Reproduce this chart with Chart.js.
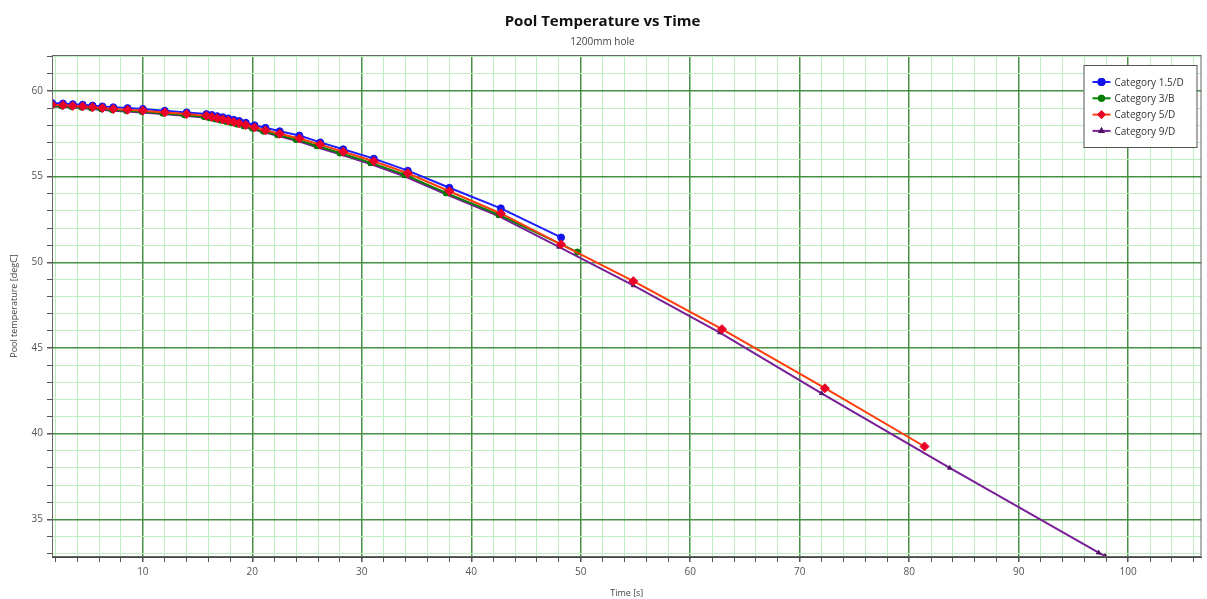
<!DOCTYPE html>
<html>
<head>
<meta charset="utf-8">
<script src="https://cdn.jsdelivr.net/npm/chart.js@4.4.1/dist/chart.umd.min.js"></script>
<style>
  html, body { margin: 0; padding: 0; background: #fff; }
  #wrap { width: 1207px; height: 599px; position: relative; }
</style>
</head>
<body>
<div id="wrap"><canvas id="poolChart"></canvas></div>
<script>
// Series data (time in s, temperature in degC)
const seriesNames = ['Category 1.5/D', 'Category 3/B', 'Category 5/D', 'Category 9/D'];

const timeCat15 = [1.7, 2.7, 3.6, 4.5, 5.4, 6.3, 7.3, 8.6, 10.0, 12.0, 14.0, 15.8, 16.3, 16.8, 17.3, 17.8, 18.3, 18.8, 19.4, 20.2, 21.2, 22.5, 24.3, 26.2, 28.3, 31.1, 34.2, 38.0, 42.7, 48.2];
const tempCat15 = [59.3, 59.27, 59.23, 59.2, 59.15, 59.1, 59.05, 59.0, 58.95, 58.85, 58.75, 58.65, 58.6, 58.53, 58.47, 58.4, 58.32, 58.25, 58.15, 58.0, 57.85, 57.65, 57.4, 57.0, 56.6, 56.05, 55.35, 54.35, 53.15, 51.45];

const timeCat3 = [1.7, 2.6, 3.5, 4.4, 5.3, 6.2, 7.2, 8.5, 9.9, 11.8, 13.8, 15.6, 16.1, 16.6, 17.1, 17.6, 18.1, 18.6, 19.2, 20.0, 21.0, 22.3, 24.0, 25.9, 28.0, 30.8, 33.9, 37.7, 42.5, 49.7];
const tempCat3 = [59.15, 59.12, 59.08, 59.05, 59.0, 58.95, 58.9, 58.85, 58.8, 58.7, 58.6, 58.5, 58.43, 58.36, 58.29, 58.22, 58.14, 58.06, 57.96, 57.82, 57.65, 57.44, 57.17, 56.8, 56.38, 55.82, 55.12, 54.05, 52.78, 50.6];

const timeCat5 = [1.7, 2.7, 3.6, 4.5, 5.4, 6.3, 7.3, 8.6, 10.0, 12.0, 14.0, 15.8, 16.3, 16.8, 17.3, 17.8, 18.3, 18.8, 19.4, 20.2, 21.2, 22.5, 24.3, 26.2, 28.3, 31.1, 34.2, 38.0, 42.7, 48.2, 54.8, 62.9, 72.3, 81.4];
const tempCat5 = [59.2, 59.17, 59.13, 59.1, 59.05, 59.0, 58.95, 58.9, 58.85, 58.75, 58.65, 58.55, 58.48, 58.41, 58.34, 58.27, 58.19, 58.11, 58.01, 57.87, 57.7, 57.5, 57.23, 56.87, 56.45, 55.9, 55.2, 54.15, 52.85, 51.05, 48.9, 46.1, 42.65, 39.25];

const timeCat9 = [1.7, 2.6, 3.5, 4.4, 5.3, 6.2, 7.2, 8.5, 9.9, 11.8, 13.8, 15.6, 16.1, 16.6, 17.1, 17.6, 18.1, 18.6, 19.2, 20.0, 21.0, 22.3, 24.0, 25.9, 28.0, 30.8, 33.9, 37.7, 42.5, 48.0, 54.8, 62.7, 72.0, 83.7, 97.3, 97.9];
const tempCat9 = [59.1, 59.07, 59.03, 59.0, 58.95, 58.9, 58.85, 58.8, 58.75, 58.65, 58.55, 58.45, 58.38, 58.31, 58.24, 58.17, 58.09, 58.01, 57.91, 57.77, 57.6, 57.38, 57.1, 56.72, 56.3, 55.73, 55.02, 53.97, 52.7, 50.9, 48.65, 45.9, 42.35, 38.0, 33.05, 32.85];

// Axis ranges and tick labels
const xMin = 1.7, xMax = 106.7;
const yMin = 32.8, yMax = 62.1;
const xTickLabels = [10, 20, 30, 40, 50, 60, 70, 80, 90, 100];
const yTickLabels = [35, 40, 45, 50, 55, 60];

const MAJOR_GRID = 'rgb(70,145,70)';
const MINOR_GRID = 'rgb(190,238,190)';

function toPoints(xs, ys) {
    return xs.map((x, i) => ({ x: x, y: ys[i] }));
}

// Minor tick every 2 s / 1 degC, majors where labels sit
function stepTicks(from, to, step) {
    const out = [];
    for (let v = from; v <= to + 1e-9; v += step) out.push({ value: Math.round(v * 10) / 10 });
    return out;
}

// Legend drawn inside the plot, top right, with a frame
const boxLegend = {
    id: 'boxLegend',
    afterDraw(chart) {
        const ctx = chart.ctx;
        const area = chart.chartArea;
        const w = 113, h = 82;
        const left = area.right - w - 5;
        const top = area.top + 10;
        ctx.save();
        ctx.fillStyle = '#fff';
        ctx.fillRect(left, top, w, h);
        ctx.strokeStyle = '#555';
        ctx.lineWidth = 1;
        ctx.strokeRect(left + 0.5, top + 0.5, w, h);
        ctx.font = '10px "Open Sans"';
        ctx.textBaseline = 'middle';
        seriesNames.forEach((name, i) => {
            const ds = chart.data.datasets.find(d => d.label === name);
            const y = top + 17 + i * 16.3;
            ctx.strokeStyle = ds.borderColor;
            ctx.lineWidth = 2;
            ctx.beginPath();
            ctx.moveTo(left + 9, y);
            ctx.lineTo(left + 27, y);
            ctx.stroke();
            Chart.helpers.drawPoint(ctx, {
                pointStyle: ds.pointStyle,
                radius: Math.min(ds.pointRadius, 3.5) - 0.5,
                borderWidth: 1,
                rotation: 0
            }, left + 18, y);
            ctx.fillStyle = ds.pointBackgroundColor;
            ctx.strokeStyle = ds.pointBorderColor;
            ctx.fill();
            ctx.stroke();
            ctx.fillStyle = '#333';
            ctx.fillText(name, left + 31, y + 1);
        });
        ctx.restore();
    }
};

// Thin frame around the plot area
const plotFrame = {
    id: 'plotFrame',
    afterDatasetsDraw(chart) {
        const a = chart.chartArea;
        const ctx = chart.ctx;
        ctx.save();
        ctx.strokeStyle = '#666';
        ctx.lineWidth = 1;
        ctx.strokeRect(a.left + 0.5, a.top + 0.5, a.right - a.left - 1, a.bottom - a.top - 1);
        ctx.restore();
    }
};

function makeDataset(label, xs, ys, lineColor, markColor, style, radius, order) {
    return {
        label: label,
        data: toPoints(xs, ys),
        showLine: true,
        borderColor: lineColor,
        borderWidth: 2,
        pointStyle: style,
        pointRadius: radius,
        pointBackgroundColor: markColor,
        pointBorderColor: markColor,
        pointBorderWidth: 1,
        tension: 0,
        order: order
    };
}

function initChart() {
    Chart.defaults.font.family = '"Open Sans", "DejaVu Sans", sans-serif';
    Chart.defaults.color = '#444';

    const ctx = document.getElementById('poolChart').getContext('2d');
    new Chart(ctx, {
        type: 'scatter',
        data: {
            datasets: [
                makeDataset(seriesNames[0], timeCat15, tempCat15, 'rgb(30,30,255)', 'rgb(20,20,240)', 'circle', 3.5, 2),
                makeDataset(seriesNames[1], timeCat3, tempCat3, 'rgb(0,130,0)', 'rgb(0,125,0)', 'circle', 3, 3),
                makeDataset(seriesNames[2], timeCat5, tempCat5, 'rgb(255,60,10)', 'rgb(235,0,40)', 'rectRot', 4.5, 1),
                makeDataset(seriesNames[3], timeCat9, tempCat9, 'rgb(120,30,150)', 'rgb(80,20,100)', 'triangle', 2.5, 4)
            ]
        },
        options: {
            responsive: true,
            maintainAspectRatio: false,
            animation: false,
            layout: { padding: { left: 0, right: 2, top: 0, bottom: 0 } },
            plugins: {
                legend: { display: false },
                tooltip: { enabled: false },
                title: {
                    display: true,
                    text: 'Pool Temperature vs Time',
                    color: '#111',
                    font: { size: 15, weight: 'bold' },
                    padding: { top: 13, bottom: 2 }
                },
                subtitle: {
                    display: true,
                    text: '1200mm hole',
                    color: '#444',
                    font: { size: 10 },
                    padding: { top: 3, bottom: 7 }
                }
            },
            scales: {
                x: {
                    type: 'linear',
                    min: xMin,
                    max: xMax,
                    afterBuildTicks: (scale) => { scale.ticks = stepTicks(2, 106, 2); },
                    afterFit: (scale) => { scale.height = 42; },
                    ticks: {
                        autoSkip: false,
                        maxRotation: 0,
                        padding: 4,
                        font: { size: 10 },
                        color: '#555',
                        callback: (v) => xTickLabels.includes(v) ? String(v) : ''
                    },
                    grid: {
                        color: (c) => c.tick && c.tick.value % 10 === 0 ? MAJOR_GRID : MINOR_GRID,
                        lineWidth: (c) => c.tick && c.tick.value % 10 === 0 ? 1.5 : 1,
                        tickColor: '#555',
                        tickLength: 5
                    },
                    border: { display: true, color: '#444', width: 1 },
                    title: {
                        display: true,
                        text: 'Time [s]',
                        font: { size: 9 },
                        color: '#444',
                        padding: { top: 0, bottom: 0 }
                    }
                },
                y: {
                    type: 'linear',
                    min: yMin,
                    max: yMax,
                    afterBuildTicks: (scale) => { scale.ticks = stepTicks(33, 62, 1); },
                    afterFit: (scale) => { scale.width = 52; },
                    ticks: {
                        autoSkip: false,
                        padding: 4,
                        font: { size: 10 },
                        color: '#555',
                        callback: (v) => yTickLabels.includes(v) ? String(v) : ''
                    },
                    grid: {
                        color: (c) => c.tick && c.tick.value % 5 === 0 ? MAJOR_GRID : MINOR_GRID,
                        lineWidth: (c) => c.tick && c.tick.value % 5 === 0 ? 1.5 : 1,
                        tickColor: '#555',
                        tickLength: 5
                    },
                    border: { display: true, color: '#444', width: 1 },
                    title: {
                        display: true,
                        text: 'Pool temperature [degC]',
                        font: { size: 9 },
                        color: '#444',
                        padding: { top: 9, bottom: 0 }
                    }
                }
            }
        },
        plugins: [plotFrame, boxLegend]
    });
}

document.addEventListener('DOMContentLoaded', initChart);
</script>
</body>
</html>
